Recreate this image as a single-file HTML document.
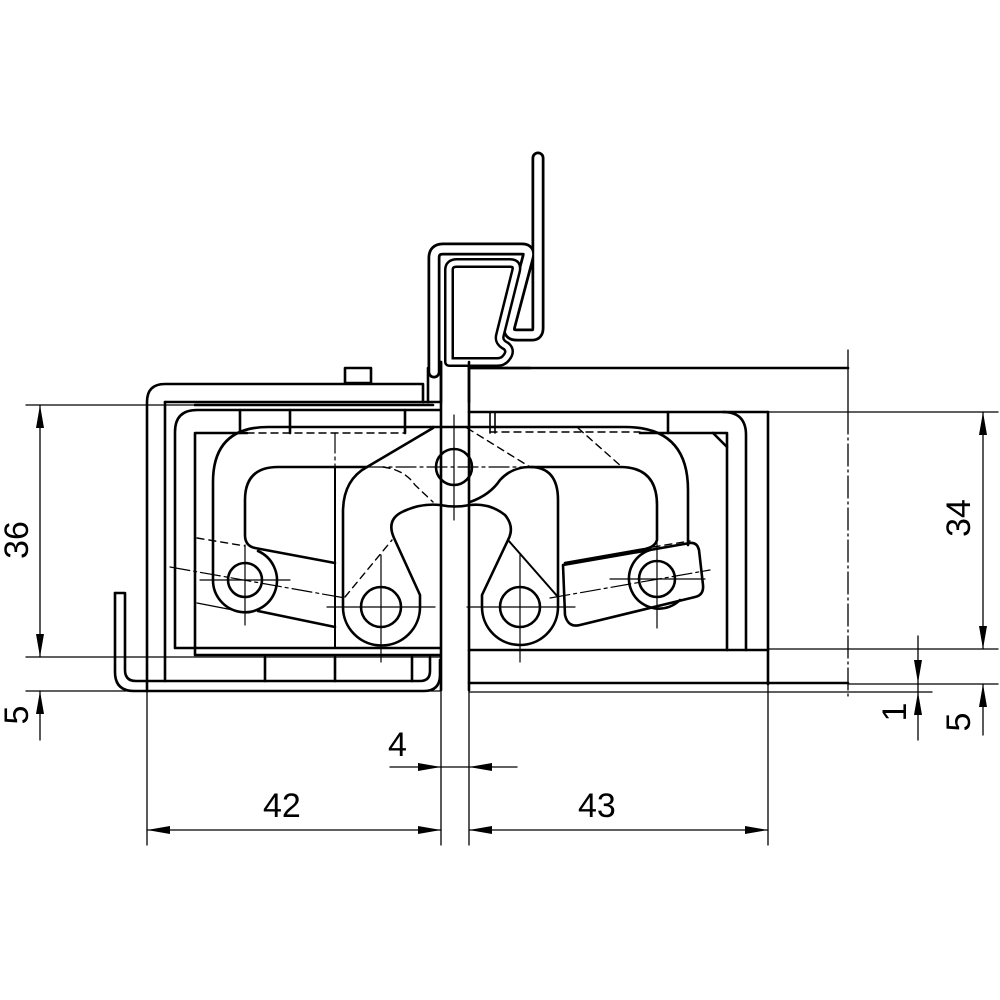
<!DOCTYPE html>
<html><head><meta charset="utf-8"><style>
html,body{margin:0;padding:0;background:#fff;}
svg{display:block;}
text{font-family:"Liberation Sans",sans-serif;font-size:34px;fill:#000;}
</style></head><body>
<svg width="1000" height="1000" viewBox="0 0 1000 1000" xmlns="http://www.w3.org/2000/svg">
<rect width="1000" height="1000" fill="#fff"/>
<g fill="none" stroke="#000" stroke-linejoin="round" stroke-linecap="round">

<!-- ===== thin dimension/extension lines ===== -->
<g stroke-width="1.3">
  <line x1="26" y1="405" x2="195" y2="405"/>
  <line x1="26" y1="657" x2="440" y2="657"/>
  <line x1="26" y1="691" x2="440" y2="691"/>
  <line x1="40" y1="405" x2="40" y2="657"/>
  <line x1="40" y1="691" x2="40" y2="740"/>
  <line x1="147" y1="400" x2="147" y2="845"/>
  <line x1="441" y1="362" x2="441" y2="845"/>
  <line x1="469" y1="362" x2="469" y2="845"/>
  <line x1="768" y1="412" x2="768" y2="845"/>
  <line x1="147" y1="830" x2="441" y2="830"/>
  <line x1="469" y1="830" x2="768" y2="830"/>
  <line x1="390" y1="767" x2="517" y2="767"/>
  <line x1="768" y1="412" x2="998" y2="412"/>
  <line x1="768" y1="649" x2="998" y2="649"/>
  <line x1="848" y1="684" x2="998" y2="684"/>
  <line x1="469" y1="692" x2="932" y2="692"/>
  <line x1="983" y1="412" x2="983" y2="649"/>
  <line x1="983" y1="684" x2="983" y2="735"/>
  <line x1="918" y1="636" x2="918" y2="740"/>
  <line x1="848" y1="350" x2="848" y2="412"/>
  <line x1="848" y1="412" x2="848" y2="700" stroke-dasharray="22 4 2 4"/>
</g>

<!-- ===== thick outlines ===== -->
<g stroke-width="2.6">
  <!-- left outer bracket -->
  <path d="M423,402 V384 H165 Q147,384 147,402 V691"/>
  <rect x="345" y="368" width="26" height="15"/>
  <line x1="165" y1="402" x2="440" y2="402"/>
  <line x1="165" y1="402" x2="165" y2="681"/>
  <line x1="195" y1="405" x2="433" y2="405"/>
  <path d="M440,410 H197 Q175,410 175,432 V648 H440"/>
  <path d="M247,433 H195 V655 H440"/>
  <line x1="240" y1="410" x2="240" y2="433"/>
  <line x1="290" y1="410" x2="290" y2="433"/>
  <line x1="405" y1="410" x2="405" y2="433"/>
  <line x1="265" y1="657" x2="265" y2="681"/>
  <line x1="335" y1="657" x2="335" y2="681"/>
  <line x1="412" y1="657" x2="412" y2="681"/>
  <line x1="335" y1="467" x2="335" y2="648" stroke-width="2"/>
  <!-- J hook -->
  <path d="M115,593 H125 V670 Q125,681 136,681 H420 Q430,681 430,671 V657"/>
  <path d="M115,593 V672 Q115,691 134,691 H424 Q440,691 440,675 V660"/>
  <!-- right frame -->
  <line x1="469" y1="368" x2="848" y2="368"/>
  <line x1="469" y1="412" x2="768" y2="412"/>
  <line x1="768" y1="412" x2="768" y2="684"/>
  <path d="M723,412 Q746,412 746,435 V650"/>
  <path d="M640,433 H727 V650"/>
  <line x1="713" y1="433" x2="727" y2="447"/>
  <line x1="668" y1="412" x2="668" y2="433"/>
  <line x1="490" y1="412" x2="490" y2="433" stroke-width="1.6"/>
  <line x1="495" y1="412" x2="495" y2="433" stroke-width="1.6"/>
  <line x1="469" y1="650" x2="768" y2="650"/>
  <line x1="469" y1="683" x2="848" y2="683"/>
  <!-- centre plate -->
  <line x1="441" y1="362" x2="441" y2="690"/>
  <line x1="469" y1="362" x2="469" y2="690"/>

  <!-- left arm -->
  <path d="M433,427 H268 Q213,427 213,482 V580 A32,32 0 1 0 258,551"/>
  <path d="M367,467 H278 Q245,467 245,500 V535 Q245,546 255,548 L335,563"/>
  <line x1="258" y1="611" x2="335" y2="627"/>
  <circle cx="245" cy="580" r="17"/>

  <!-- centre X link -->
  <path d="M433,428 L367,467 Q343,480 343,512 V607 A38,38 0 0 0 420,607 V595 L394,538 Q386,520 402,512 Q420,503 440,505 Q455,508 470,505 Q490,503 505,515 Q515,527 508,540 L482,595 V607 A38,38 0 0 0 558,607 V500 Q558,467 530,467 Q512,467 500,480 Q490,495 470,502"/>
  <circle cx="381" cy="607" r="20"/>
  <circle cx="520" cy="607" r="20"/>
  <circle cx="454" cy="467" r="18"/>
  <line x1="508" y1="540" x2="558" y2="597" stroke-width="2"/>

  <!-- right arm -->
  <path d="M433,427 H625 Q688,427 688,490 V545"/>
  <path d="M530,467 H620 Q657,467 657,505 V540 Q655,547 645,549 L565,563"/>
  <path d="M563,565 L690,543 Q697,542 699,550 L703,585 Q704,595 695,597 L580,625 Q568,628 565,615 Z"/>
  <path d="M650,550 A30,30 0 1 0 680,600"/>
  <circle cx="657" cy="579" r="18"/>
</g>

<!-- clip (double line sheet metal) -->
<g>
  <path d="M434,372 V258 Q434,249 443,249 H522 Q530,249 528,257 L510,325 Q507,335 517,335 H532 Q538,335 538,328 V158" stroke="#000" stroke-width="13"/>
  <path d="M434,372 V258 Q434,249 443,249 H522 Q530,249 528,257 L510,325 Q507,335 517,335 H532 Q538,335 538,328 V158" stroke="#fff" stroke-width="7.5"/>
  <path d="M449,362 V270 Q449,263 457,263 H510 Q518,263 516,271 L500,335 Q498,342 506,346 Q512,351 506,358 Q503,362 497,362 Z" stroke="#000" stroke-width="10"/>
  <path d="M449,362 V270 Q449,263 457,263 H510 Q518,263 516,271 L500,335 Q498,342 506,346 Q512,351 506,358 Q503,362 497,362 Z" stroke="#fff" stroke-width="5"/>
  <line x1="428" y1="368" x2="428" y2="402" stroke-width="2.6"/>
  <line x1="441" y1="362" x2="441" y2="402" stroke-width="2.6"/>
  <line x1="469" y1="362" x2="469" y2="402" stroke-width="2.6"/>
  <line x1="469" y1="368" x2="530" y2="368" stroke-width="2.6"/>
</g>

<!-- dashed hidden lines -->
<g stroke-width="1.4" stroke-dasharray="7 5">
  <path d="M247,433 H405 V410"/>
  <path d="M383,467 Q405,470 415,485 L433,502"/>
  <path d="M345,597 L392,540"/>
  <path d="M490,432 H640"/>
  <path d="M467,428 L530,467"/>
  <path d="M578,428 L622,467"/>
  <path d="M653,547 L690,541"/>
  <path d="M197,538 L245,546"/>
</g>
<!-- centre lines (dash-dot) -->
<g stroke-width="1.2" stroke-dasharray="20 4 3 4">
  <line x1="335" y1="433" x2="335" y2="467"/>
  <line x1="170" y1="567" x2="345" y2="598"/>
  <line x1="550" y1="598" x2="710" y2="570"/>
  <line x1="365" y1="467" x2="530" y2="467"/>
</g>
<g stroke-width="1.2">
  <line x1="454" y1="415" x2="454" y2="520"/>
  <line x1="200" y1="580" x2="290" y2="580"/>
  <line x1="245" y1="545" x2="245" y2="625"/>
  <line x1="327" y1="607" x2="435" y2="607"/>
  <line x1="381" y1="555" x2="381" y2="662"/>
  <line x1="467" y1="607" x2="575" y2="607"/>
  <line x1="520" y1="555" x2="520" y2="662"/>
  <line x1="610" y1="579" x2="705" y2="579"/>
  <line x1="657" y1="543" x2="657" y2="628"/>
  <line x1="197" y1="603" x2="233" y2="610"/>
</g>
</g>

<!-- arrowheads -->
<g fill="#000" stroke="none">
  <polygon points="40,405 36,428 44,428"/>
  <polygon points="40,657 36,634 44,634"/>
  <polygon points="40,691 36,714 44,714"/>
  <polygon points="147,830 170,826 170,834"/>
  <polygon points="441,830 418,826 418,834"/>
  <polygon points="469,830 492,826 492,834"/>
  <polygon points="768,830 745,826 745,834"/>
  <polygon points="441,767 418,763 418,771"/>
  <polygon points="469,767 492,763 492,771"/>
  <polygon points="983,412 979,435 987,435"/>
  <polygon points="983,649 979,626 987,626"/>
  <polygon points="983,684 979,707 987,707"/>
  <polygon points="918,683 914,660 922,660"/>
  <polygon points="918,692 914,715 922,715"/>
</g>

<!-- labels -->
<text x="263" y="817">42</text>
<text x="578" y="817">43</text>
<text x="388" y="756">4</text>
<text transform="translate(28,540) rotate(-90)" text-anchor="middle">36</text>
<text transform="translate(28,715) rotate(-90)" text-anchor="middle">5</text>
<text transform="translate(970,518) rotate(-90)" text-anchor="middle">34</text>
<text transform="translate(970,722) rotate(-90)" text-anchor="middle">5</text>
<text transform="translate(906,712) rotate(-90)" text-anchor="middle">1</text>
</svg>
</body></html>
